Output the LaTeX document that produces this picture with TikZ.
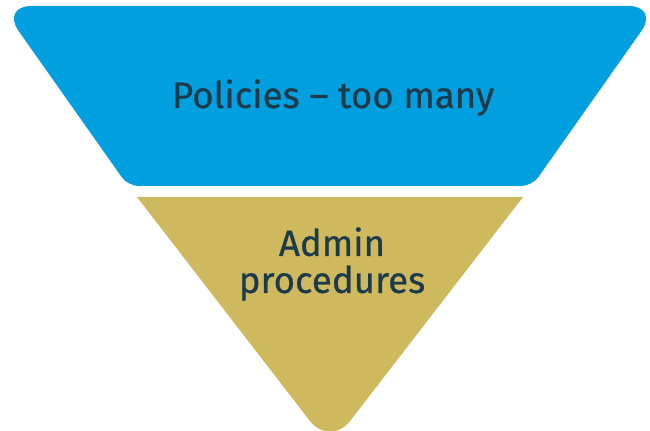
\documentclass[tikz,border=0pt]{standalone}
\usepackage{fontspec}
\setmainfont{Fira Sans}[UprightFeatures={FakeBold=0.6}]
\usetikzlibrary{calc}
\definecolor{funnelblue}{RGB}{0,159,223}
\definecolor{funnelgold}{RGB}{207,185,94}
\definecolor{funneltext}{RGB}{28,58,74}

\begin{document}
\begin{tikzpicture}[%
  x=0.75pt,y=-0.75pt,
  lbl/.style={text=funneltext,font=\fontsize{27.5}{27.75}\selectfont,align=center,inner sep=0pt}]
  \useasboundingbox (0,0) rectangle (650,431);
  % corners of the two levels
  \coordinate (b1) at (1,6); \coordinate (b2) at (659,6);
  \coordinate (b3) at (532,186); \coordinate (b4) at (128,186);
  \coordinate (g1) at (137,197); \coordinate (g2) at (523,197);
  \coordinate (g3) at (330,447);
  \fill[funnelblue] (330,6) [rounded corners=23pt] -- (b2) -- ($(b2)!.5!(b3)$)
    [rounded corners=8pt] -- (b3) -- (330,186) -- (b4) -- ($(b4)!.5!(b1)$)
    [rounded corners=23pt] -- (b1) -- cycle;
  \fill[funnelgold] (g1) -- (g2) -- ($(g2)!.5!(g3)$) [rounded corners=25pt] -- (g3)
    -- ($(g3)!.5!(g1)$) [sharp corners] -- cycle;
  \node[lbl,anchor=base] (policies) at (333,108) {Policies – too many};
  \node[lbl] (admin) at (332,264) {Admin\\procedures};
\end{tikzpicture}
\end{document}
